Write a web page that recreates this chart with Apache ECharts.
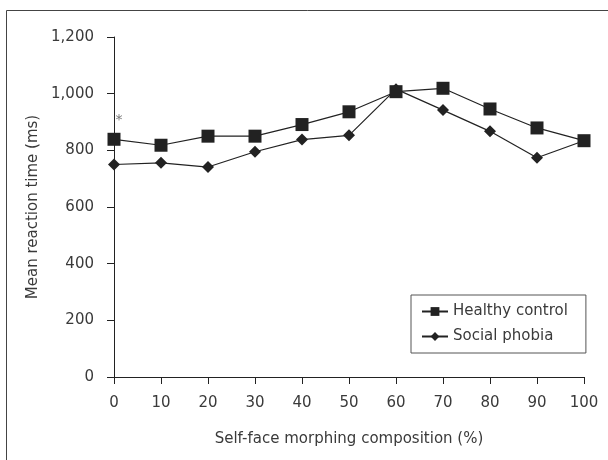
<!DOCTYPE html>
<html>
<head>
<meta charset="utf-8">
<script src="https://cdn.jsdelivr.net/npm/echarts@6/dist/echarts.min.js"></script>
<style>
  html, body { margin: 0; padding: 0; background: #fff; }
  #chart { width: 608px; height: 460px; }
</style>
</head>
<body>
<div id="chart"></div>
<script>
// morphing composition (%)
const composition = [0, 10, 20, 30, 40, 50, 60, 70, 80, 90, 100]
// mean reaction time (ms)
const healthyControl = [839, 818, 850, 850, 891, 936, 1007, 1019, 946, 879, 834]
const socialPhobia = [750, 756, 741, 795, 838, 853, 1016, 942, 867, 774, 834]
const seriesNames = ['Healthy control', 'Social phobia']
const sigMark = { x: 0, y: 912, text: '*' }

const font = '"DejaVu Sans", sans-serif'
const ink = '#222'
const textColor = '#3a3a3a'

function pairs (ys) {
  return composition.map(function (x, i) { return [x, ys[i]] })
}

const myChart = echarts.init(document.getElementById('chart'))
const option = {
  backgroundColor: '#fff',
  animation: false,
  graphic: [{
    type: 'rect',
    shape: { x: 6.5, y: 10.5, width: 620, height: 480 },
    style: { fill: 'none', stroke: '#444', lineWidth: 1 },
    silent: true
  }],
  grid: { left: 114, right: 24, top: 37, bottom: 83 },
  legend: {
    orient: 'vertical',
    left: 411,
    top: 295,
    padding: [9, 18, 9, 10],
    itemGap: 10,
    itemWidth: 26,
    itemHeight: 11,
    borderColor: '#555',
    borderWidth: 1,
    textStyle: { fontFamily: font, fontSize: 15, color: textColor },
    data: seriesNames
  },
  xAxis: {
    type: 'value',
    min: 0,
    max: 100,
    interval: 10,
    name: 'Self-face morphing composition (%)',
    nameLocation: 'middle',
    nameGap: 55,
    nameTextStyle: { fontFamily: font, fontSize: 15, color: textColor },
    splitLine: { show: false },
    axisLine: { lineStyle: { color: ink, width: 1 } },
    axisTick: { show: true, inside: false, length: 7, lineStyle: { color: ink } },
    axisLabel: { fontFamily: font, fontSize: 15, color: textColor, margin: 19 }
  },
  yAxis: {
    type: 'value',
    min: 0,
    max: 1200,
    interval: 200,
    name: 'Mean reaction time (ms)',
    nameLocation: 'middle',
    nameGap: 66,
    nameTextStyle: { fontFamily: font, fontSize: 15, color: textColor },
    splitLine: { show: false },
    axisLine: { show: true, lineStyle: { color: ink, width: 1 } },
    axisTick: { show: true, inside: false, length: 7, lineStyle: { color: ink } },
    axisLabel: {
      fontFamily: font,
      fontSize: 15,
      color: textColor,
      margin: 20,
      formatter: function (v) { return v.toLocaleString('en-US') }
    }
  },
  series: [
    {
      name: seriesNames[0],
      type: 'line',
      data: pairs(healthyControl),
      symbol: 'rect',
      symbolSize: 13,
      itemStyle: { color: ink },
      lineStyle: { color: ink, width: 1.2 },
      z: 3,
      markPoint: {
        symbol: 'circle',
        symbolSize: 0,
        data: [{ coord: [sigMark.x, sigMark.y] }],
        label: {
          show: true,
          position: 'inside',
          offset: [5, 2],
          formatter: sigMark.text,
          fontFamily: font,
          fontSize: 14,
          color: '#777'
        }
      }
    },
    {
      name: seriesNames[1],
      type: 'line',
      data: pairs(socialPhobia),
      symbol: 'diamond',
      symbolSize: 12,
      itemStyle: { color: ink },
      lineStyle: { color: ink, width: 1.2 },
      z: 2
    }
  ]
}
myChart.setOption(option)
</script>
</body>
</html>
